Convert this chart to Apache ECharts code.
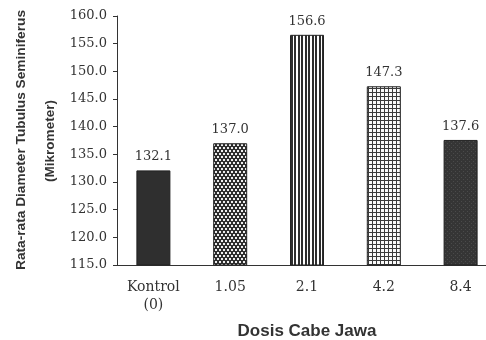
<!DOCTYPE html>
<html><head><meta charset="utf-8">
<script src="https://cdn.jsdelivr.net/npm/echarts@6/dist/echarts.min.js"></script>
<style>html,body{margin:0;padding:0;background:#fff}#c{width:486px;height:340px}</style>
</head><body><div id="c"></div>
<script>
var categories = ['Kontrol\n(0)', '1.05', '2.1', '4.2', '8.4'];
var values = [132.1, 137.0, 156.6, 147.3, 137.6];
var yMin = 115, yMax = 160, yStep = 5;
var yTitle1 = 'Rata-rata Diameter Tubulus Seminiferus';
var yTitle2 = '(Mikrometer)';
var xTitle = 'Dosis Cabe Jawa';

function pat(w, h, draw) {
  var c = document.createElement('canvas'); c.width = w; c.height = h;
  var g = c.getContext('2d'); draw(g); return {image: c, repeat: 'repeat'};
}
var dark = '#2e2e2e';
var patterns = [
  '#2f2f2f',
  pat(4, 6, function(g){ g.fillStyle = dark; g.fillRect(0,0,4,6); g.fillStyle='#eeeeee'; g.fillRect(1,0,2,2); g.fillRect(3,3,1,2); g.fillRect(0,3,1,2); }),
  pat(7, 4, function(g){ g.fillStyle = '#fff'; g.fillRect(0,0,7,4); g.fillStyle=dark; g.fillRect(0,0,2,4); g.fillRect(4,0,2,4); }),
  pat(4, 4, function(g){ g.fillStyle = '#fafafa'; g.fillRect(0,0,4,4); g.fillStyle='#3a3a3a'; g.fillRect(0,0,1,4); g.fillRect(0,0,4,1); }),
  pat(4, 4, function(g){ g.fillStyle = '#353535'; g.fillRect(0,0,4,4); g.fillStyle='#4a4a4a'; g.fillRect(1,1,1,1); g.fillRect(3,3,1,1); })
];

function fitScale(text, font, target) {
  var g = document.createElement('canvas').getContext('2d'); g.font = font;
  return target / g.measureText(text).width;
}
var tFont = 'bold 13px "Liberation Sans"';

var chart = echarts.init(document.getElementById('c'));
chart.setOption({
  backgroundColor: '#fff',
  animation: false,
  grid: {left: 115, top: 16, height: 249, width: 384, outerBoundsMode: 'none', containLabel: false},
  xAxis: {
    type: 'category', data: categories,
    axisLine: {lineStyle: {color: '#333', width: 1}},
    axisTick: {show: false},
    axisLabel: {fontFamily: 'DejaVu Serif', fontSize: 14, color: '#333', margin: 13, lineHeight: 18},
    name: xTitle, nameLocation: 'middle', nameGap: 58,
    nameTextStyle: {fontFamily: 'Liberation Sans', fontWeight: 'bold', fontSize: 17, color: '#333'}
  },
  yAxis: {
    type: 'value', min: yMin, max: yMax, interval: yStep, offset: -2,
    splitLine: {show: false},
    axisLine: {show: true, lineStyle: {color: '#333'}},
    axisTick: {show: true, length: 4, lineStyle: {color: '#333'}},
    axisLabel: {fontFamily: 'DejaVu Serif', fontSize: 13, color: '#333', margin: 10,
      formatter: function(v){ return v.toFixed(1); }}
  },
  series: [{
    type: 'bar', barWidth: 34,
    data: values.map(function(v, i){ return {value: v, itemStyle: {color: patterns[i]}}; }),
    itemStyle: {borderColor: '#222', borderWidth: 1},
    label: {show: true, position: 'top', distance: 7, fontFamily: 'DejaVu Serif', fontSize: 13, color: '#333',
      formatter: function(p){ return p.value.toFixed(1); }}
  }],
  graphic: [
    {type: 'text', rotation: Math.PI/2, x: 15, y: 270, scaleX: fitScale(yTitle1, tFont, 260),
      style: {text: yTitle1, font: tFont, fill: '#333', textVerticalAlign: 'top'}},
    {type: 'text', rotation: Math.PI/2, x: 44, y: 182, scaleX: fitScale(yTitle2, tFont, 82),
      style: {text: yTitle2, font: tFont, fill: '#333', textVerticalAlign: 'top'}}
  ]
});
</script></body></html>
